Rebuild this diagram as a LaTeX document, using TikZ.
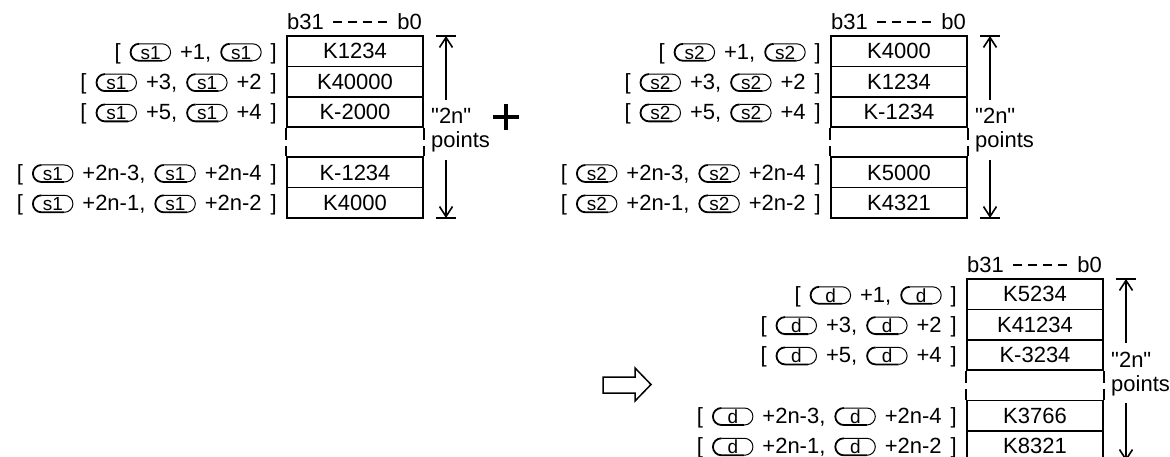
\documentclass[tikz,border=0pt]{standalone}
\usepackage{fontspec}
\newfontfamily\lsf{Liberation Sans}
\usetikzlibrary{arrows.meta}
\newcommand{\lblfont}{\lsf\fontsize{22}{26}\selectfont\spaceskip=9pt\relax}
\newcommand{\cellfont}{\lsf\fontsize{22}{26}\selectfont}
\newcommand{\pillfont}{\lsf\fontsize{19}{19}\selectfont}
\tikzset{
  txt/.style={inner sep=0pt, font=\lblfont},
  cell/.style={draw, line width=1.7pt, minimum width=136pt, minimum height=30.3pt, inner sep=0pt, font=\cellfont},
  pilltext/.style={inner sep=0pt, font=\pillfont},
  pilltop/.style={line width=1pt},
  pillbot/.style={line width=1.8pt},
  gapdash/.style={line width=1.7pt, dash pattern=on 12pt off 6pt},
  hdash/.style={line width=1.6pt, dash pattern=on 9pt off 6pt},
  dim/.style={line width=1.6pt},
  dimarrow/.style={line width=1.6pt, -{Straight Barb[length=10pt,width=13pt]}},
}
% pill: half straight length 11.5, radius 8.5
\newcommand{\pl}[1]{\tikz[x=1pt,y=1pt,baseline=0pt]{%
  \node[pilltext, anchor=base] (p) at (0,0) {#1};
  \draw[pilltop] (-11.5,15.5) -- (11.5,15.5) arc[start angle=90,end angle=-90,radius=8.5];
  \draw[pillbot] (11.5,-1.5) -- (-11.5,-1.5) arc[start angle=270,end angle=90,radius=8.5];}}
% #1 name, #2 pill text, #3..#7 values
\newcommand{\memtable}[7]{%
  \node[txt, anchor=base west] (#1-b31) at (287,29.5) {b31};
  \node[txt, anchor=base east] (#1-b0) at (422,29.5) {b0};
  \coordinate (#1-hd1) at (333,22);
  \coordinate (#1-hd2) at (387,22);
  \draw[hdash] (#1-hd1) -- (#1-hd2);
  \node[cell] (#1-r1) at (355,51.3) {#3};
  \node[cell] (#1-r2) at (355,81.6) {#4};
  \node[cell] (#1-r3) at (355,111.9) {#5};
  \node[cell] (#1-r4) at (355,172.5) {#6};
  \node[cell] (#1-r5) at (355,202.8) {#7};
  \draw[gapdash] (#1-r3.south west) -- (#1-r4.north west);
  \draw[gapdash] (#1-r3.south east) -- (#1-r4.north east);
  \node[txt, anchor=base east] (#1-l1) at (277,59.3) {[ \pl{#2} +1, \pl{#2} ]};
  \node[txt, anchor=base east] (#1-l2) at (277,89.6) {[ \pl{#2} +3, \pl{#2} +2 ]};
  \node[txt, anchor=base east] (#1-l3) at (277,119.9) {[ \pl{#2} +5, \pl{#2} +4 ]};
  \node[txt, anchor=base east] (#1-l4) at (277,180.5) {[ \pl{#2} +2n-3, \pl{#2} +2n-4 ]};
  \node[txt, anchor=base east] (#1-l5) at (277,210.8) {[ \pl{#2} +2n-1, \pl{#2} +2n-2 ]};
  \coordinate (#1-at) at (446,36);
  \coordinate (#1-ab) at (446,218);
  \draw[dim] ([xshift=-10pt]#1-at) -- ([xshift=10pt]#1-at);
  \draw[dim] ([xshift=-10pt]#1-ab) -- ([xshift=10pt]#1-ab);
  \node[txt, anchor=base west] (#1-n2) at (431,124) {"2n"};
  \node[txt, anchor=base west] (#1-pts) at (431,148) {points};
  \coordinate (#1-au) at (446,100);
  \coordinate (#1-ad) at (446,160);
  \draw[dimarrow] (#1-au) -- (#1-at);
  \draw[dimarrow] (#1-ad) -- (#1-ab);
}
\begin{document}
\begin{tikzpicture}[x=1pt,y=-1pt]
\useasboundingbox (0,0) rectangle (1170,457);
\clip (0,0) rectangle (1170,457);
\begin{scope}
\memtable{a}{s1}{K1234}{K40000}{K-2000}{K-1234}{K4000}
\end{scope}
\begin{scope}[shift={(544,0)}]
\memtable{b}{s2}{K4000}{K1234}{K-1234}{K5000}{K4321}
\end{scope}
\begin{scope}[shift={(680,243)}]
\memtable{c}{d}{K5234}{K41234}{K-3234}{K3766}{K8321}
\end{scope}
% plus sign
\draw[line width=4.8pt] (493,117) -- (519,117);
\draw[line width=4.8pt] (506,104) -- (506,130);
% hollow arrow
\draw[line width=1.5pt, line join=miter] (603,377) -- (635,377) -- (635,368) -- (651,384.5) -- (635,401) -- (635,393) -- (603,393) -- cycle;
\end{tikzpicture}
\end{document}
